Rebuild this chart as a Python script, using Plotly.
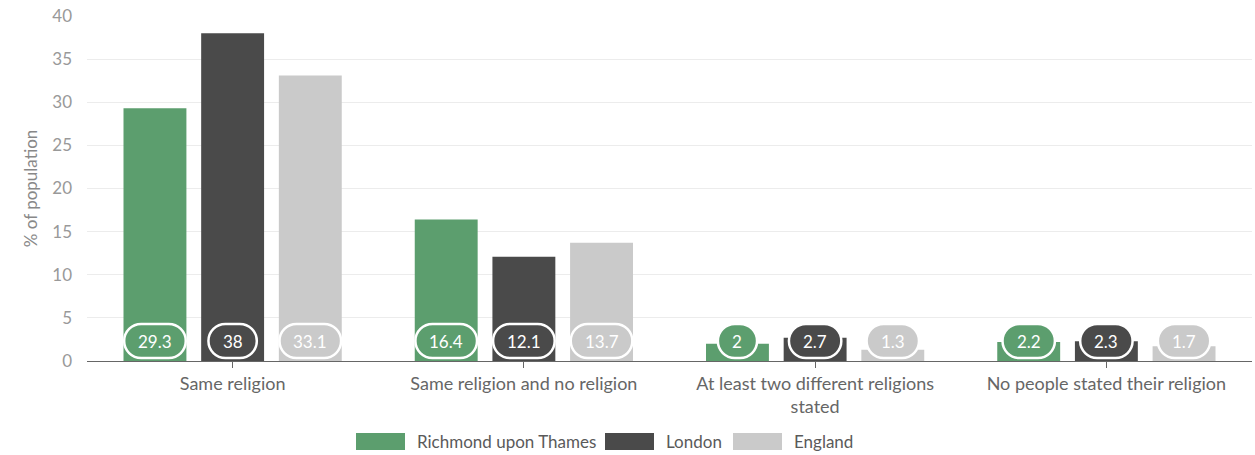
import plotly.graph_objects as go

categories = ["Same religion", "Same religion and no religion",
              "At least two different religions<br>stated", "No people stated their religion"]
series_names = ["Richmond upon Thames", "London", "England"]
richmond = [29.3, 16.4, 2.0, 2.2]
london = [38.0, 12.1, 2.7, 2.3]
england = [33.1, 13.7, 1.3, 1.7]
y_ticks = [0, 5, 10, 15, 20, 25, 30, 35, 40]

colors = ["#5c9e6e", "#4a4a4a", "#cacaca"]
series_values = [richmond, london, england]

FONT = "Lato, 'Open Sans', sans-serif"
W, H = 1255, 455
ML, MR, MT, MB = 87, 3, 16, 94
PW, PH = W - ML - MR, H - MT - MB
BARGAP = 0.2
SLOT = (1 - BARGAP) / 3


def px_to_paper(px, py):
    return (px - ML) / PW, (H - MB - py) / PH


fig = go.Figure()
for name, vals, col in zip(series_names, series_values, colors):
    fig.add_trace(go.Bar(
        x=categories, y=vals, name=name, marker=dict(color=col, line=dict(width=0)),
        showlegend=False, hoverinfo="y+name",
    ))

shapes = []
annotations = []
PILL_Y = 20 / (PH / 40)  # data value at pill center
h = 34
r = h / 2
k = 0.5523 * r


def label_text(v):
    return f"{v:g}"


for j, (vals, col) in enumerate(zip(series_values, colors)):
    for i, v in enumerate(vals):
        t = label_text(v)
        digits = sum(c.isdigit() for c in t)
        dots = t.count(".")
        w = 30 + 9.2 * digits + 4 * dots
        hw = w / 2
        xc = i + (j - 1) * SLOT
        path = (f"M {-hw + r},{-r} L {hw - r},{-r} "
                f"C {hw - r + k},{-r} {hw},{-k} {hw},0 "
                f"C {hw},{k} {hw - r + k},{r} {hw - r},{r} "
                f"L {-hw + r},{r} "
                f"C {-hw + r - k},{r} {-hw},{k} {-hw},0 "
                f"C {-hw},{-k} {-hw + r - k},{-r} {-hw + r},{-r} Z")
        shapes.append(dict(type="path", xref="x", yref="y", xsizemode="pixel", ysizemode="pixel",
                           xanchor=xc, yanchor=PILL_Y, path=path, fillcolor=col,
                           line=dict(color="white", width=2.5), layer="above"))
        annotations.append(dict(x=xc, y=PILL_Y, xref="x", yref="y", text=t, showarrow=False,
                                font=dict(family=FONT, size=17, color="white"),
                                xanchor="center", yanchor="middle"))

# custom legend
legend_items = [(356, 413), (605, 662), (733, 790)]
for (sx, tx), name, col in zip(legend_items, series_names, colors):
    x0, y0 = px_to_paper(sx, 450)
    x1, y1 = px_to_paper(sx + 49, 433)
    shapes.append(dict(type="rect", xref="paper", yref="paper", x0=x0, x1=x1, y0=y0, y1=y1,
                       fillcolor=col, line=dict(width=0)))
    ax, ay = px_to_paper(tx + 2, 441)
    annotations.append(dict(x=ax, y=ay, xref="paper", yref="paper", text=name, showarrow=False,
                            xanchor="left", yanchor="middle",
                            font=dict(family=FONT, size=17, color="#5a5a5a")))

fig.update_layout(
    width=W, height=H,
    margin=dict(l=ML, r=MR, t=MT, b=MB, pad=0),
    barmode="group", bargap=BARGAP, bargroupgap=0.19,
    plot_bgcolor="white", paper_bgcolor="white",
    font=dict(family=FONT, size=15, color="#666666"),
    shapes=shapes, annotations=annotations,
    showlegend=False,
    xaxis=dict(
        showline=True, linecolor="#666666", linewidth=1,
        ticks="outside", ticklen=6, tickcolor="#666666",
        tickfont=dict(family=FONT, size=18, color="#666666"),
        showgrid=False,
    ),
    yaxis=dict(
        range=[0, 40], tickvals=y_ticks, showgrid=True, gridcolor="#ececec", gridwidth=1,
        zeroline=False, showline=False,
        tickfont=dict(family=FONT, size=17, color="#999999"),
        ticklabelstandoff=14,
        title=dict(text="% of population", font=dict(family=FONT, size=17, color="#888888"), standoff=10),
    ),
)

fig.write_html("out.html", config={"displayModeBar": False},
               post_script="document.body.style.margin='0';document.body.style.overflow='hidden';")
